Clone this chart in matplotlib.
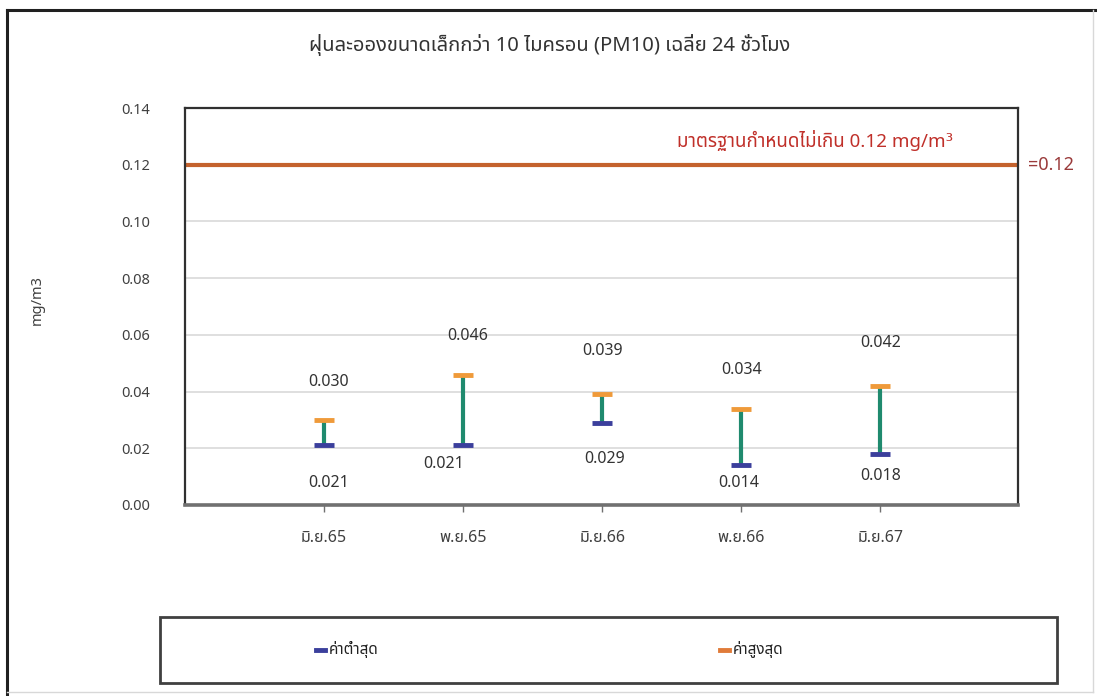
import matplotlib
matplotlib.use("Agg")
import matplotlib.pyplot as plt
from matplotlib import font_manager, ft2font
from matplotlib.lines import Line2D
from matplotlib.patches import Rectangle

# ---- data ----
categories = ["มิ.ย.65", "พ.ย.65", "มิ.ย.66", "พ.ย.66", "มิ.ย.67"]
min_values = [0.021, 0.021, 0.029, 0.014, 0.018]
max_values = [0.030, 0.046, 0.039, 0.034, 0.042]
standard_value = 0.12
y_ticks = [0.00, 0.02, 0.04, 0.06, 0.08, 0.10, 0.12, 0.14]

title_text = "ฝุ่นละอองขนาดเล็กกว่า 10 ไมครอน (PM10) เฉลี่ย 24 ชั่วโมง"
standard_text = "มาตรฐานกำหนดไม่เกิน 0.12 mg/m³"
legend_min = "ค่าต่ำสุด"
legend_max = "ค่าสูงสุด"
y_label = "mg/m3"


def find_thai_font():
    preferred = ["Noto Sans Thai", "Noto Sans Thai UI", "Noto Serif Thai",
                 "Loma", "Garuda", "Tlwg Typo", "Sarabun", "Tahoma"]
    found = {}
    for f in font_manager.fontManager.ttflist:
        try:
            cmap = ft2font.FT2Font(f.fname).get_charmap()
        except Exception:
            continue
        if 0x0E01 in cmap and 0x0E32 in cmap:
            found.setdefault(f.name, f.fname)
    for p in preferred:
        if p in found:
            return p
    if found:
        return sorted(found)[0]
    return None


thai = find_thai_font()
families = ([thai] if thai else []) + ["DejaVu Sans"]
plt.rcParams["font.family"] = families

W, H = 1097, 696
fig = plt.figure(figsize=(W / 100, H / 100), dpi=100)

# outer chart border
fig.add_artist(Line2D([7 / W, 7 / W], [0, 1 - 10 / H], transform=fig.transFigure,
                      color="#202020", lw=2.2))
fig.add_artist(Line2D([7 / W, 1095 / W], [1 - 10 / H, 1 - 10 / H], transform=fig.transFigure,
                      color="#202020", lw=2.2))
fig.add_artist(Line2D([1093 / W, 1093 / W], [4 / H, 1 - 10 / H], transform=fig.transFigure,
                      color="#d8d8d8", lw=1))
fig.add_artist(Line2D([7 / W, 1093 / W], [4 / H, 4 / H], transform=fig.transFigure,
                      color="#d8d8d8", lw=1))

left, right, top, bottom = 185, 1018, 108, 505
ax = fig.add_axes([left / W, 1 - bottom / H, (right - left) / W, (bottom - top) / H])

x = list(range(len(categories)))
ax.set_xlim(-1, 4.99)
ax.set_ylim(0, 0.14)

# gridlines
for t in y_ticks[1:-1]:
    ax.axhline(t, color="#d9d9d9", lw=1.2, zorder=0)

# frame
for side in ["top", "left", "right"]:
    ax.spines[side].set_color("#303030")
    ax.spines[side].set_linewidth(1.6)
ax.spines["bottom"].set_color("#707070")
ax.spines["bottom"].set_linewidth(2.6)

# standard line
ax.axhline(standard_value, color="#c4622d", lw=3, zorder=2)
ax.text(0.757, 0.919, standard_text, transform=ax.transAxes, ha="center", va="center",
        color="#c0302a", fontsize=13.5)
ax.text(1.012, standard_value, "=" + f"{standard_value:.2f}", transform=ax.get_yaxis_transform(),
        ha="left", va="center", color="#9a3a3a", fontsize=13, clip_on=False)

# high-low bars
ax.vlines(x, min_values, max_values, color="#1f8a6e", lw=3, zorder=3)
ax.plot(x, min_values, linestyle="none", marker="_", markersize=14, mew=3.5,
        color="#3b3f9c", zorder=4)
ax.plot(x, max_values, linestyle="none", marker="_", markersize=14, mew=3.5,
        color="#ef9a3a", zorder=4)

# value labels (offsets in points)
max_offsets = [(3, 27), (3, 28), (0, 31), (0, 28), (0, 31)]
min_offsets = [(3, -27), (-14, -13), (2, -26), (-2, -13), (0, -16)]
for xi, v, (dx, dy) in zip(x, max_values, max_offsets):
    ax.annotate(f"{v:.3f}", (xi, v), xytext=(dx, dy), textcoords="offset points",
                ha="center", va="center", fontsize=11.5, color="#333333")
for xi, v, (dx, dy) in zip(x, min_values, min_offsets):
    ax.annotate(f"{v:.3f}", (xi, v), xytext=(dx, dy), textcoords="offset points",
                ha="center", va="center", fontsize=11.5, color="#333333")

# axes ticks
ax.set_yticks(y_ticks)
ax.set_yticklabels([f"{t:.2f}" for t in y_ticks], fontsize=10.5, color="#404040")
ax.tick_params(axis="y", length=0, pad=25)
ax.set_xticks(x)
ax.set_xticklabels(categories, fontsize=11.5, color="#404040")
ax.tick_params(axis="x", length=5, width=1, color="#707070", pad=13)

fig.text(37 / W, 1 - 300 / H, y_label, rotation=90, ha="center", va="center",
         fontsize=10.5, color="#404040")
fig.text(550 / W, 1 - 45 / H, title_text, ha="center", va="center",
         fontsize=14.5, color="#333333")

# legend box
fig.add_artist(Rectangle((160 / W, 1 - 683 / H), (1057 - 160) / W, (683 - 617) / H,
                         transform=fig.transFigure, fill=False, edgecolor="#404040", lw=2))
fig.add_artist(Line2D([316 / W, 325 / W], [1 - 650 / H] * 2, transform=fig.transFigure,
                      color="#3b3f9c", lw=3.5))
fig.text(329 / W, 1 - 650 / H, legend_min, ha="left", va="center", fontsize=11, color="#222222")
fig.add_artist(Line2D([720 / W, 729 / W], [1 - 650 / H] * 2, transform=fig.transFigure,
                      color="#e07b39", lw=3.5))
fig.text(733 / W, 1 - 650 / H, legend_max, ha="left", va="center", fontsize=11, color="#222222")

fig.savefig("out.png", dpi=100)
